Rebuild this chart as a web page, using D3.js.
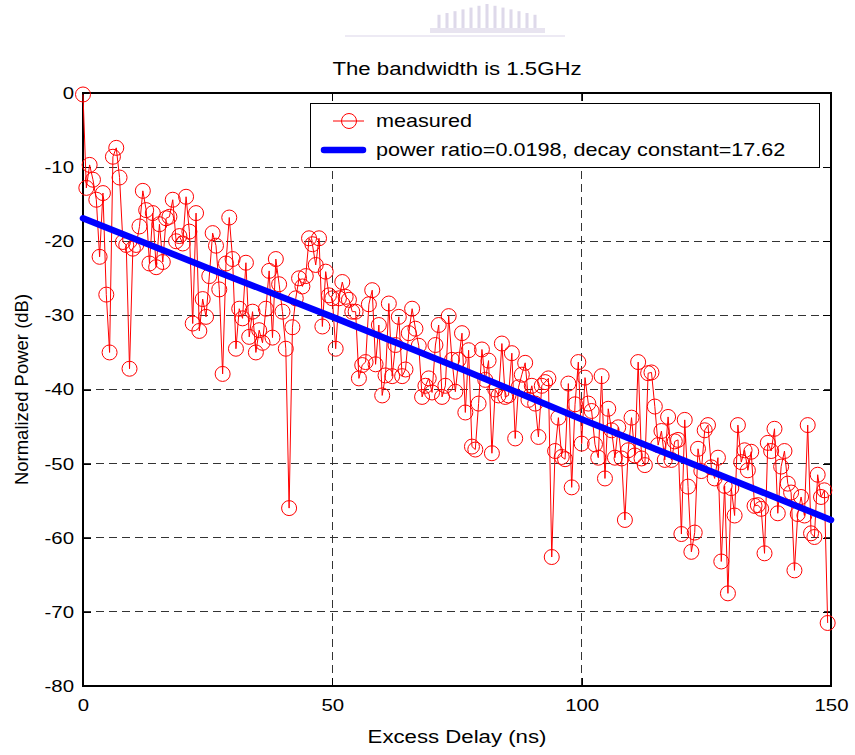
<!DOCTYPE html>
<html>
<head>
<meta charset="utf-8">
<script src="https://cdn.jsdelivr.net/npm/d3@7"></script>
<style>
  body { margin: 0; background: #fff; }
  text { font-family: "Liberation Sans", Arial, sans-serif; fill: #000; }
</style>
</head>
<body>
<div id="chart"></div>
<script>
// sample delays (ns), 1.5 GHz -> one tap every 0.67 ns
var delays = [
  0,0.67,1.33,2,2.67,3.33,4,4.67,5.33,6,6.67,7.33,8,8.67,9.33,
  10,10.67,11.33,12,12.67,13.33,14,14.67,15.33,16,16.67,17.33,18,18.67,19.33,
  20,20.67,21.33,22,22.67,23.33,24,24.67,25.33,26,26.67,27.33,28,28.67,29.33,
  30,30.67,31.33,32,32.67,33.33,34,34.67,35.33,36,36.67,37.33,38,38.67,39.33,
  40,40.67,41.33,42,42.67,43.33,44,44.67,45.33,46,46.67,47.33,48,48.67,49.33,
  50,50.67,51.33,52,52.67,53.33,54,54.67,55.33,56,56.67,57.33,58,58.67,59.33,
  60,60.67,61.33,62,62.67,63.33,64,64.67,65.33,66,66.67,67.33,68,68.67,69.33,
  70,70.67,71.33,72,72.67,73.33,74,74.67,75.33,76,76.67,77.33,78,78.67,79.33,
  80,80.67,81.33,82,82.67,83.33,84,84.67,85.33,86,86.67,87.33,88,88.67,89.33,
  90,90.67,91.33,92,92.67,93.33,94,94.67,95.33,96,96.67,97.33,98,98.67,99.33,
  100,100.67,101.33,102,102.67,103.33,104,104.67,105.33,106,106.67,107.33,108,108.67,109.33,
  110,110.67,111.33,112,112.67,113.33,114,114.67,115.33,116,116.67,117.33,118,118.67,119.33,
  120,120.67,121.33,122,122.67,123.33,124,124.67,125.33,126,126.67,127.33,128,128.67,129.33,
  130,130.67,131.33,132,132.67,133.33,134,134.67,135.33,136,136.67,137.33,138,138.67,139.33,
  140,140.67,141.33,142,142.67,143.33,144,144.67,145.33,146,146.67,147.33,148,148.67,149.33
];

// measured normalized power (dB)
var measured = [
  -0.2,-12.8,-9.7,-11.7,-14.4,-22.1,-13.5,-27.2,-35,-8.6,-7.4,-11.4,-20.1,-20.5,-37.2,
  -21,-20.5,-18,-13.2,-15.8,-23,-16.2,-23.5,-17.7,-22.8,-16.9,-16.7,-14.4,-20,-19.3,
  -20.3,-14.0,-18.7,-31.1,-16.2,-32.1,-27.8,-30.2,-24.7,-18.9,-20.6,-26.5,-37.9,-23,-16.8,
  -22.4,-34.5,-29.1,-30.4,-22.9,-32.9,-29.5,-35,-32,-33.7,-29.1,-24,-33,-22.4,-25.8,
  -29.5,-34.5,-56.0,-31.6,-27.7,-25,-26.1,-24.7,-19.6,-20.4,-23.2,-19.6,-31.5,-24.1,-27.3,
  -27.7,-34.5,-27.7,-25.5,-27.5,-27.9,-29.5,-29.5,-38.5,-36.7,-36.3,-28.5,-26.6,-36.6,-31.3,
  -40.8,-38.1,-28.4,-38.2,-34,-30.2,-38.2,-37.3,-32.4,-29.1,-31.8,-34.1,-41,-39.5,-38.5,
  -40.4,-34,-31.3,-41,-39.5,-30.1,-36,-40.3,-36,-32.4,-43.1,-34.7,-47.7,-48.1,-41.9,
  -34.6,-38.7,-36.1,-48.6,-40,-40.8,-33.8,-41,-40.8,-35.1,-46.6,-39.7,-38,-36.4,-41.4,
  -39.5,-41.9,-46.4,-39.5,-39,-38.5,-62.6,-48.3,-43.8,-49.1,-49.4,-39.2,-53.2,-42,-36.3,
  -47.3,-38.4,-41.9,-42.9,-47.4,-49.2,-38.2,-52,-42.6,-45.5,-49.2,-45.1,-49.3,-57.6,-48.2,
  -43.8,-48.9,-36.3,-49.3,-50.2,-37.8,-37.7,-42.3,-47.5,-45.6,-49.5,-43.7,-49.5,-47,-46.8,
  -59.5,-44.1,-53.1,-61.9,-59.3,-48,-51,-45.5,-44.8,-50.5,-52,-49.2,-63.2,-53,-67.5,
  -53.3,-57,-44.8,-49.8,-48.2,-50.9,-48.4,-55.7,-55.6,-56.1,-62.1,-47.2,-48.3,-45.3,-56.7,
  -50.4,-48.3,-52.7,-53.9,-64.4,-56.8,-54.5,-57,-44.8,-59.4,-59.9,-51.5,-54.5,-53.6,-71.5
];

// fitted exponential decay (straight in dB)
var fitDelays = [0, 25, 50, 75, 100, 125, 150];
var fitPower = [-16.9, -23.6, -30.2, -37.0, -44.0, -50.8, -57.6];

var xTicks = [0, 50, 100, 150];
var yTicks = [0, -10, -20, -30, -40, -50, -60, -70, -80];
var legendLabels = ["measured", "power ratio=0.0198, decay constant=17.62"];

var W = 855, H = 755;
var margin = {top: 93, right: 24, bottom: 69, left: 83},
    width = W - margin.left - margin.right,
    height = H - margin.top - margin.bottom;
var stretch = 1.2;

var svg = d3.select("#chart").append("svg")
    .attr("width", W)
    .attr("height", H);

// faint logo watermark above the title
var logo = svg.append("g").attr("opacity", 0.5);
var bars = [-6,-5,-4,-3,-2,-1,0,1,2,3,4,5,6];
logo.selectAll("rect").data(bars).enter().append("rect")
    .attr("x", function(d) { return 487 + d * 8 - 1.5; })
    .attr("y", function(d) { return 4 + Math.abs(d) * 1.8; })
    .attr("width", 3)
    .attr("height", function(d) { return 25 - Math.abs(d) * 1.8; })
    .attr("fill", "#bfb4d6");
logo.append("rect").attr("x", 345).attr("y", 35).attr("width", 220).attr("height", 2)
    .attr("fill", "#dcd6ea");
logo.append("rect").attr("x", 430).attr("y", 28).attr("width", 115).attr("height", 5)
    .attr("fill", "#d2cae3");

var g = svg.append("g").attr("transform", "translate(" + margin.left + "," + margin.top + ")");

var x = d3.scaleLinear().domain([0, 150]).range([0, width]);
var y = d3.scaleLinear().domain([-80, 0]).range([height, 0]);

// grid
g.append("g")
    .attr("class", "grid")
    .selectAll("line")
    .data(xTicks.slice(1, -1))
    .enter().append("line")
      .attr("x1", function(d) { return x(d); })
      .attr("x2", function(d) { return x(d); })
      .attr("y1", 0).attr("y2", height);
g.append("g")
    .attr("class", "grid")
    .selectAll("line")
    .data(yTicks.slice(1, -1))
    .enter().append("line")
      .attr("x1", 0).attr("x2", width)
      .attr("y1", function(d) { return y(d); })
      .attr("y2", function(d) { return y(d); });
g.selectAll(".grid line")
    .attr("stroke", "#333")
    .attr("stroke-width", 1)
    .attr("stroke-dasharray", "8,5")
    .attr("shape-rendering", "crispEdges");

// axes with inward ticks on all four sides
var plain = function(d) { return String(d); };
var xAxis = g.append("g")
    .attr("transform", "translate(0," + height + ")")
    .call(d3.axisBottom(x).tickValues(xTicks).tickFormat(plain).tickSizeInner(-8).tickSizeOuter(0).tickPadding(13));
var yAxis = g.append("g")
    .call(d3.axisLeft(y).tickValues(yTicks).tickFormat(plain).tickSizeInner(-8).tickSizeOuter(0).tickPadding(7.5));
g.append("g")
    .call(d3.axisTop(x).tickValues(xTicks).tickSizeInner(-8).tickSizeOuter(0).tickFormat(""));
g.append("g")
    .attr("transform", "translate(" + width + ",0)")
    .call(d3.axisRight(y).tickValues(yTicks).tickSizeInner(-8).tickSizeOuter(0).tickFormat(""));

g.selectAll(".domain").remove();
g.selectAll(".tick line").attr("stroke", "#000").attr("shape-rendering", "crispEdges");
g.selectAll(".tick text")
    .attr("font-size", 17).attr("font-family", "Liberation Sans, Arial, sans-serif")
    .attr("fill", "#000")
    .attr("transform", "scale(" + stretch + ",1)");

// plot box
g.append("rect")
    .attr("width", width).attr("height", height)
    .attr("fill", "none").attr("stroke", "#000").attr("stroke-width", 1.2)
    .attr("shape-rendering", "crispEdges");

var points = delays.map(function(d, i) { return {t: d, p: measured[i]}; });

var measuredLine = d3.line()
    .x(function(d) { return x(d.t); })
    .y(function(d) { return y(d.p); });

g.append("path")
    .datum(points)
    .attr("d", measuredLine)
    .attr("fill", "none")
    .attr("stroke", "#ff0000")
    .attr("stroke-width", 1);

g.append("g")
  .selectAll("circle")
  .data(points)
  .enter().append("circle")
    .attr("cx", function(d) { return x(d.t); })
    .attr("cy", function(d) { return y(d.p); })
    .attr("r", 7.5)
    .attr("fill", "none")
    .attr("stroke", "#ff0000")
    .attr("stroke-width", 1);

var fitLine = d3.line()
    .x(function(d, i) { return x(fitDelays[i]); })
    .y(function(d) { return y(d); });

g.append("path")
    .datum(fitPower)
    .attr("d", fitLine)
    .attr("fill", "none")
    .attr("stroke", "#0000ff")
    .attr("stroke-width", 6.5)
    .attr("stroke-linecap", "round");

function stretchedText(parent, px, py, str, size, anchor) {
  return parent.append("text")
      .attr("transform", "translate(" + px + "," + py + ") scale(" + stretch + ",1)")
      .attr("font-size", size)
      .attr("text-anchor", anchor || "start")
      .text(str);
}

// title and axis labels
stretchedText(svg, margin.left + width / 2, 75, "The bandwidth is 1.5GHz", 18.5, "middle");
stretchedText(svg, margin.left + width / 2, 743, "Excess Delay (ns)", 18.5, "middle");
svg.append("text")
    .attr("transform", "translate(28," + (margin.top + height / 2) + ") rotate(-90)")
    .attr("font-size", 18.5)
    .attr("text-anchor", "middle")
    .text("Normalized Power (dB)");

// legend
var legend = svg.append("g");
legend.append("rect")
    .attr("x", 310).attr("y", 103).attr("width", 509).attr("height", 64)
    .attr("fill", "#fff").attr("stroke", "#000").attr("stroke-width", 1)
    .attr("shape-rendering", "crispEdges");
legend.append("line")
    .attr("x1", 333).attr("x2", 364).attr("y1", 121).attr("y2", 121)
    .attr("stroke", "#ff0000").attr("stroke-width", 1);
legend.append("circle")
    .attr("cx", 349).attr("cy", 121).attr("r", 7.5)
    .attr("fill", "none").attr("stroke", "#ff0000").attr("stroke-width", 1);
legend.append("line")
    .attr("x1", 324).attr("x2", 363).attr("y1", 150).attr("y2", 150)
    .attr("stroke", "#0000ff").attr("stroke-width", 6.5).attr("stroke-linecap", "round");
stretchedText(legend, 376, 127, legendLabels[0], 18);
stretchedText(legend, 376, 156, legendLabels[1], 18);
</script>
</body>
</html>
